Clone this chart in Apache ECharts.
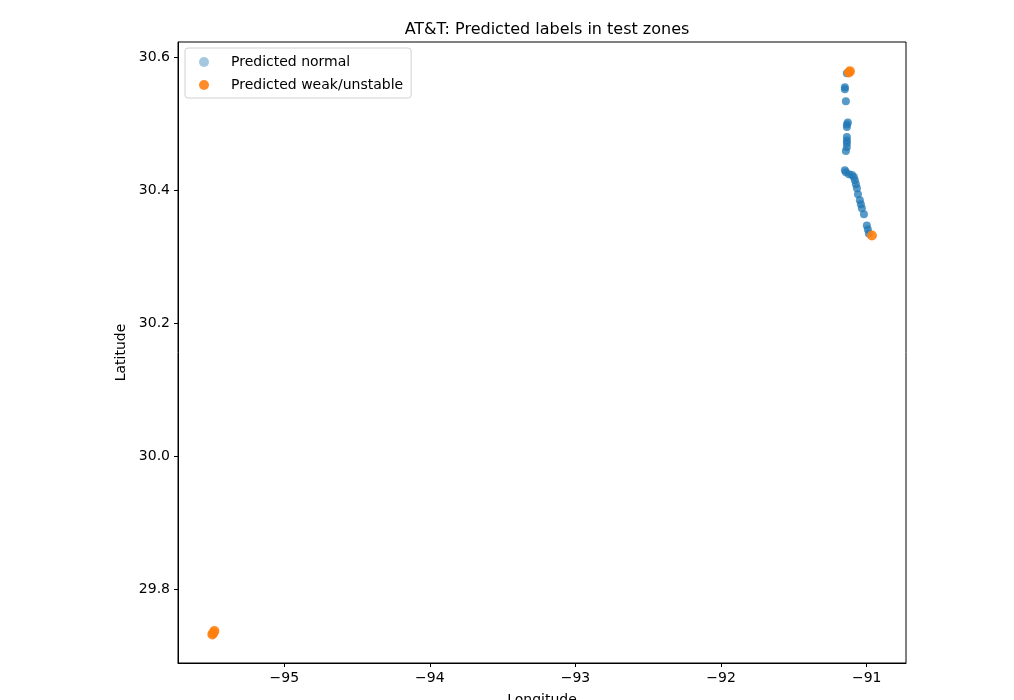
<!DOCTYPE html>
<html>
<head>
<meta charset="utf-8">
<script src="https://cdn.jsdelivr.net/npm/echarts@6/dist/echarts.min.js"></script>
<style>
  html, body { margin: 0; padding: 0; background: #fff; }
  #chart { width: 1014px; height: 700px; }
</style>
</head>
<body>
<div id="chart"></div>
<script>
// predicted normal: [lon, lat]
var normalPts = [
  [-91.136, 30.576], [-91.150, 30.555], [-91.150, 30.552], [-91.143, 30.534],
  [-91.129, 30.502], [-91.136, 30.499], [-91.136, 30.495],
  [-91.136, 30.480], [-91.136, 30.475], [-91.136, 30.471], [-91.136, 30.465], [-91.143, 30.459],
  [-91.150, 30.430], [-91.143, 30.427], [-91.122, 30.424], [-91.101, 30.423], [-91.088, 30.420],
  [-91.081, 30.415], [-91.074, 30.409], [-91.067, 30.403], [-91.060, 30.394],
  [-91.047, 30.385], [-91.040, 30.379], [-91.033, 30.373], [-91.019, 30.364],
  [-90.999, 30.347], [-90.992, 30.341], [-90.985, 30.335]
]
// predicted weak/unstable
var weakPts = [
  [-91.115, 30.579], [-91.122, 30.577], [-90.964, 30.332],
  [-95.494, 29.732], [-95.480, 29.737], [-95.487, 29.734]
]
var xTicks = [-95, -94, -93, -92, -91]
var yTicks = [29.8, 30.0, 30.2, 30.4, 30.6]

var chart = echarts.init(document.getElementById('chart'))
var font = 'DejaVu Sans'
var option = {
  animation: false,
  textStyle: { fontFamily: font },
  title: {
    text: 'AT&T: Predicted labels in test zones',
    left: 542, top: 17, textAlign: 'center',
    textStyle: { fontFamily: font, fontSize: 16, fontWeight: 'normal', color: '#000' }
  },
  legend: {
    left: 185, top: 48,
    orient: 'vertical',
    itemWidth: 10, itemHeight: 10, itemGap: 9,
    padding: [7, 8, 6, 14],
    borderColor: '#d0d0d0', borderWidth: 1, borderRadius: 3,
    textStyle: { fontFamily: font, fontSize: 14, color: '#000', padding: [0, 0, 0, 17] },
    data: [
      { name: 'Predicted normal', icon: 'circle', itemStyle: { color: '#a5c8e1', opacity: 1 } },
      { name: 'Predicted weak/unstable', icon: 'circle', itemStyle: { color: '#ff8c2a', opacity: 1 } }
    ]
  },
  grid: {
    left: 178, right: 108, top: 42, bottom: 37,
    outerBoundsMode: 'none',
    show: true, borderColor: '#000', borderWidth: 1
  },
  xAxis: {
    type: 'value', min: -95.73, max: -90.73,
    name: 'Longitude', nameLocation: 'middle', nameGap: 30,
    nameTextStyle: { fontFamily: font, fontSize: 14, color: '#000' },
    splitLine: { show: false },
    axisLine: { show: true, lineStyle: { color: '#000' } },
    axisTick: { show: true, length: 4, customValues: xTicks, lineStyle: { color: '#000' } },
    axisLabel: {
      customValues: xTicks, fontSize: 14, color: '#000', margin: 8,
      formatter: function (v) { return '\u2212' + Math.abs(v) }
    }
  },
  yAxis: {
    type: 'value', min: 29.689, max: 30.623,
    name: 'Latitude', nameLocation: 'middle', nameGap: 43, nameRotate: 90,
    nameTextStyle: { fontFamily: font, fontSize: 14, color: '#000' },
    splitLine: { show: false },
    axisLine: { show: true, lineStyle: { color: '#000' } },
    axisTick: { show: true, length: 4, customValues: yTicks, lineStyle: { color: '#000' } },
    axisLabel: {
      customValues: yTicks, fontSize: 14, color: '#000', margin: 8,
      formatter: function (v) { return v.toFixed(1) }
    }
  },
  series: [
    {
      name: 'Predicted normal', type: 'scatter', data: normalPts,
      symbolSize: 8,
      itemStyle: { color: '#1f77b4', opacity: 0.75 }
    },
    {
      name: 'Predicted weak/unstable', type: 'scatter', data: weakPts,
      symbolSize: 10,
      itemStyle: { color: '#ff7f0e', opacity: 0.9 }
    }
  ]
}
chart.setOption(option)
</script>
</body>
</html>
